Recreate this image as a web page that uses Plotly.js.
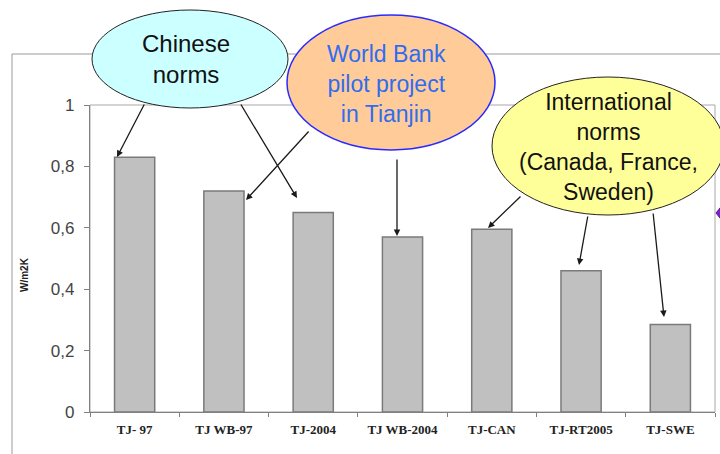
<!DOCTYPE html>
<html>
<head>
<meta charset="utf-8">
<script src="https://cdn.plot.ly/plotly-3.0.1.min.js"></script>
<style>html,body{margin:0;padding:0;background:#fff;}#chart{width:720px;height:454px;}</style>
</head>
<body>
<div id="chart"></div>
<script>
// Data
const categories = ['TJ- 97', 'TJ WB-97', 'TJ-2004', 'TJ WB-2004', 'TJ-CAN', 'TJ-RT2005', 'TJ-SWE'];
const uValues = [0.83, 0.72, 0.65, 0.57, 0.595, 0.46, 0.285];
const yTitle = 'W/m2K';
const bubbleTexts = ['Chinese<br>norms', 'World Bank<br>pilot project<br>in Tianjin', 'International<br>norms<br>(Canada, France,<br>Sweden)'];

const trace = {
  type: 'bar',
  x: categories,
  y: uValues,
  marker: {color: '#c0c0c0', line: {color: '#7a7a7a', width: 1.5}},
  hoverinfo: 'x+y'
};

// helpers to convert reference pixel positions to paper coords
const L = 90, T = 105, W = 625, H = 307;
const px = v => (v - L) / W;
const py = v => (T + H - v) / H;

function arrow(tx, ty, hx, hy) {
  return {
    xref: 'paper', yref: 'paper', x: px(hx), y: py(hy),
    axref: 'pixel', ayref: 'pixel', ax: tx - hx, ay: ty - hy,
    text: '', showarrow: true, arrowhead: 2, arrowsize: 1, arrowwidth: 1.3,
    arrowcolor: '#1a1a1a', standoff: 0, startstandoff: 0
  };
}

function label(cx, cy, text, size, color) {
  return {
    xref: 'paper', yref: 'paper', x: px(cx), y: py(cy), xanchor: 'center', yanchor: 'middle',
    text: text, showarrow: false, align: 'center',
    font: {family: 'Liberation Sans, Arial, sans-serif', size: size, color: color}
  };
}

const layout = {
  width: 720, height: 454,
  margin: {l: L, r: 5, t: T, b: 42},
  paper_bgcolor: '#ffffff', plot_bgcolor: '#ffffff',
  separators: ', ',
  showlegend: false,
  bargap: 0.55,
  font: {family: 'Liberation Sans, Arial, sans-serif', color: '#222'},
  xaxis: {
    type: 'category',
    showline: true, linecolor: '#808080', linewidth: 1.2,
    ticks: 'outside', tickson: 'boundaries', ticklen: 4, tickcolor: '#808080',
    tickfont: {family: 'Liberation Serif, Times New Roman, serif', size: 13, color: '#222', weight: 'bold'},
    ticklabelstandoff: 5,
    showgrid: false, zeroline: false, fixedrange: true
  },
  yaxis: {
    range: [0, 1], dtick: 0.2, tick0: 0,
    showline: true, linecolor: '#808080', linewidth: 1.2,
    ticks: 'outside', ticklen: 5, tickcolor: '#808080',
    tickfont: {family: 'Liberation Sans, Arial, sans-serif', size: 17, color: '#444'},
    ticklabelstandoff: 6,
    showgrid: false, zeroline: false, fixedrange: true
  },
  shapes: [
    // outer chart frame
    {type: 'rect', xref: 'paper', yref: 'paper', x0: px(12), x1: 1.1, y0: -0.3, y1: py(54),
     line: {color: '#9a9a9a', width: 1}, fillcolor: 'rgba(0,0,0,0)', layer: 'below'},
    // plot area border
    {type: 'rect', xref: 'paper', yref: 'paper', x0: 0, x1: 1, y0: 0, y1: 1,
     line: {color: '#a8a8a8', width: 1}, fillcolor: 'rgba(0,0,0,0)', layer: 'below'},
    // purple marker at right edge
    {type: 'path', xref: 'paper', yref: 'paper',
     path: `M ${px(716)} ${py(213)} L ${px(724)} ${py(203)} L ${px(724)} ${py(223)} Z`,
     fillcolor: '#7a22cc', line: {color: '#5a10a0', width: 1}, layer: 'above'},
    // bubbles
    {type: 'circle', xref: 'paper', yref: 'paper', x0: px(92), x1: px(288), y0: py(108), y1: py(10),
     fillcolor: '#ccffff', line: {color: '#222', width: 1}, layer: 'above'},
    {type: 'circle', xref: 'paper', yref: 'paper', x0: px(287), x1: px(495), y0: py(150), y1: py(15),
     fillcolor: '#ffcc99', line: {color: '#2a2aff', width: 1.5}, layer: 'above'},
    {type: 'circle', xref: 'paper', yref: 'paper', x0: px(492), x1: px(724), y0: py(215), y1: py(77),
     fillcolor: '#ffff99', line: {color: '#222', width: 1}, layer: 'above'}
  ],
  annotations: [
    {xref: 'paper', yref: 'paper', x: px(24), y: py(275), xanchor: 'center', yanchor: 'middle',
     text: yTitle, showarrow: false, textangle: -90,
     font: {family: 'Liberation Sans, Arial, sans-serif', size: 10, color: '#222', weight: 'bold'}},
    label(186, 59, bubbleTexts[0], 24, '#111'),
    label(386, 84, bubbleTexts[1], 23, '#2f6cf0'),
    label(608, 147, bubbleTexts[2], 23, '#111'),
    arrow(145, 103, 117, 157),
    arrow(240, 103, 297, 198),
    arrow(310, 130, 246, 200),
    arrow(397, 158, 397, 236),
    arrow(522, 195, 488, 228),
    arrow(588, 215, 579, 265),
    arrow(653, 212, 664, 317)
  ]
};

Plotly.newPlot('chart', [trace], layout, {displayModeBar: false, staticPlot: true});
</script>
</body>
</html>
